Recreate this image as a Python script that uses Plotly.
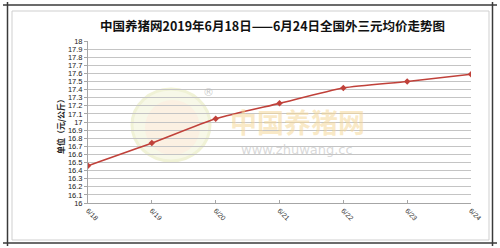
import plotly.graph_objects as go

dates = ["6/18", "6/19", "6/20", "6/21", "6/22", "6/23", "6/24"]
prices = [16.46, 16.74, 17.04, 17.23, 17.42, 17.50, 17.59]
y_ticks = [round(16 + 0.1 * i, 1) for i in range(21)]
y_tick_labels = [("%g" % v) for v in y_ticks]

title_text = "中国养猪网2019年6月18日——6月24日全国外三元均价走势图"
y_title = "单位（元/公斤）"

W, H = 500, 248
L, R, T, B = 88, 471, 41, 203


def px(x):
    return (x - L) / (R - L)


def py(y):
    return (B - y) / (B - T)


fig = go.Figure()
fig.add_trace(go.Scatter(
    x=list(range(len(dates))), y=prices, mode="lines+markers",
    line=dict(color="#c0413a", width=1.6, shape="spline", smoothing=0.6),
    marker=dict(symbol="diamond", size=5, color="#c0413a"),
    hoverinfo="skip", showlegend=False,
))

shapes = []
# watermark circle logo
shapes.append(dict(type="circle", xref="paper", yref="paper", layer="below",
                   x0=px(132), x1=px(210), y0=py(161), y1=py(89),
                   fillcolor="#f7f8e8", line=dict(color="#f0f2d6", width=3)))
shapes.append(dict(type="circle", xref="paper", yref="paper", layer="below",
                   x0=px(145), x1=px(200), y0=py(155), y1=py(100),
                   fillcolor="#fbf0e2", line=dict(width=0)))
# frame
dark = "#3a3a3a"
light = "#cfcfcf"
shapes += [
    dict(type="line", xref="paper", yref="paper", x0=px(3), x1=px(497), y0=py(5), y1=py(5), line=dict(color=dark, width=1.5)),
    dict(type="line", xref="paper", yref="paper", x0=px(3), x1=px(497), y0=py(243), y1=py(243), line=dict(color=dark, width=1.5)),
    dict(type="line", xref="paper", yref="paper", x0=px(7.5), x1=px(7.5), y0=py(2), y1=py(246), line=dict(color=dark, width=1.5)),
    dict(type="line", xref="paper", yref="paper", x0=px(492.5), x1=px(492.5), y0=py(2), y1=py(246), line=dict(color=dark, width=1.5)),
    dict(type="rect", xref="paper", yref="paper", x0=px(12), x1=px(489), y0=py(240), y1=py(11), line=dict(color=light, width=1)),
]

annotations = [
    dict(text="<b>" + title_text + "</b>", xref="paper", yref="paper", x=px(272), y=py(25), showarrow=False,
         font=dict(family="Noto Sans CJK SC", size=12.5, color="#111111"), xanchor="center", yanchor="middle"),
    dict(text="<b>" + y_title + "</b>", xref="paper", yref="paper", x=px(60), y=py(125), showarrow=False,
         textangle=-90, font=dict(family="Noto Sans CJK SC", size=8, color="#222222"), xanchor="center", yanchor="middle"),
    dict(text="<b>中国养猪网</b>", xref="paper", yref="paper", x=px(297), y=py(121), showarrow=False,
         font=dict(family="Noto Sans CJK SC", size=27, color="rgba(245,215,150,0.55)"), xanchor="center", yanchor="middle"),
    dict(text="www.zhuwang.cc", xref="paper", yref="paper", x=px(297), y=py(149), showarrow=False,
         font=dict(family="DejaVu Sans", size=13, color="rgba(200,200,200,0.7)"), xanchor="center", yanchor="middle"),
    dict(text="®", xref="paper", yref="paper", x=px(208), y=py(92), showarrow=False,
         font=dict(family="DejaVu Sans", size=11, color="rgba(190,190,190,0.8)"), xanchor="center", yanchor="middle"),
]

fig.update_layout(
    width=W, height=H,
    margin=dict(l=L, r=W - R, t=T, b=H - B),
    paper_bgcolor="white", plot_bgcolor="white",
    shapes=shapes, annotations=annotations,
    xaxis=dict(range=[0, len(dates) - 1], tickvals=list(range(len(dates))), ticktext=dates,
               tickangle=45, showgrid=False, zeroline=False,
               showline=True, linecolor="#a6a6a6", linewidth=1,
               ticks="inside", ticklen=3, tickcolor="#a6a6a6",
               tickfont=dict(family="Liberation Sans", size=7, color="#333333")),
    yaxis=dict(range=[16, 18], tickvals=y_ticks, ticktext=y_tick_labels,
               showgrid=True, gridcolor="#c4c4c4", gridwidth=1, zeroline=False,
               showline=True, linecolor="#a6a6a6", linewidth=1,
               ticks="outside", ticklen=3, tickcolor="#a6a6a6",
               tickfont=dict(family="Liberation Sans", size=7.5, color="#222222")),
)

fig.write_html("out.html")
